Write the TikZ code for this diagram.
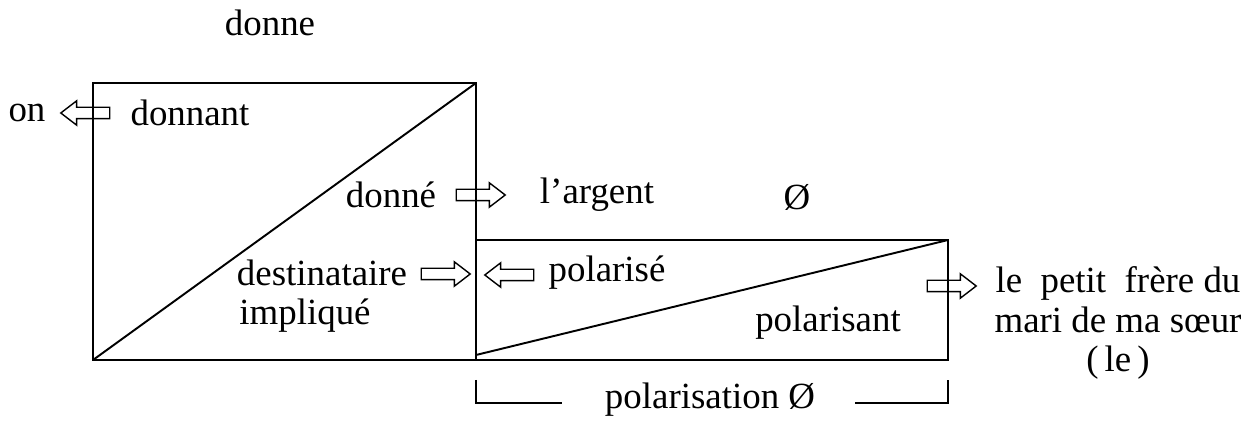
\documentclass[tikz,border=0pt]{standalone}
\usepackage{fontspec}
\setmainfont{Liberation Serif}
\usetikzlibrary{shapes.arrows,positioning}
\tikzset{
  every picture/.style={line width=1.1pt},
  lbl/.style={inner sep=0pt, font=\fontsize{21}{22.5}\selectfont},
  harrow/.style={single arrow, draw, line width=0.8pt, inner xsep=0pt,
                 inner ysep=0.1cm, single arrow head extend=0.13cm,
                 single arrow tip angle=75, minimum height=0.98cm},
  harrowl/.style={harrow, shape border rotate=180},
}

\begin{document}
\begin{tikzpicture}[x=0.02cm, y=-0.02cm]
  \useasboundingbox (0,0) rectangle (1254,421);
  % big box
  \coordinate (p1) at (93,83);
  \coordinate (p2) at (476,83);
  \coordinate (p3) at (476,360);
  \coordinate (p4) at (93,360);
  \draw (p1) rectangle (p3);
  \draw (p4) -- (p2);
  % small box
  \coordinate (q1) at (476,240);
  \coordinate (q2) at (948,240);
  \coordinate (q3) at (948,360);
  \coordinate (q0) at (476,355);
  \draw (q1) -- (q2) -- (q3) -- (p3);
  \draw (q0) -- (q2);
  % labels
  \node[lbl] (donne) at (270,23) {donne};
  \node[lbl] (on) at (27,113) {on};
  \node[lbl] (donnant) at (190,113) {donnant};
  \node[lbl] (donnel) at (391,195) {donné};
  \node[lbl] (argent) at (597,195) {l’argent};
  \node[lbl] (vide) at (797,197) {Ø};
  \node[lbl] (destin) at (322,273) {destinataire};
  \node[lbl] (implique) at (305,316) {impliqué};
  \node[lbl] (polarise) at (607,273) {polarisé};
  \node[lbl] (polarisant) at (828,323) {polarisant};
  \node[lbl, align=center] (frere) at (1118,323)
        {le\ \ petit\ \ frère du\\mari de ma sœur\\(\,le\,)};
  \node[lbl] (polar) at (710,400) {polarisation Ø};
  % hollow arrows
  \node[harrowl] (aon) at (89,113) {};
  \node[harrow] (adonne) at (477,195) {};
  \node[harrow] (adestin) at (442,274) {};
  \node[harrowl] (apolar) at (513,275) {};
  \node[harrow] (afrere) at (948,286) {};
  % bracket
  \coordinate (b1) at (476,380);
  \coordinate (b2) at (562,403);
  \coordinate (b3) at (855,403);
  \coordinate (b4) at (948,380);
  \draw (b1) |- (b2);
  \draw (b3) -| (b4);
\end{tikzpicture}
\end{document}
